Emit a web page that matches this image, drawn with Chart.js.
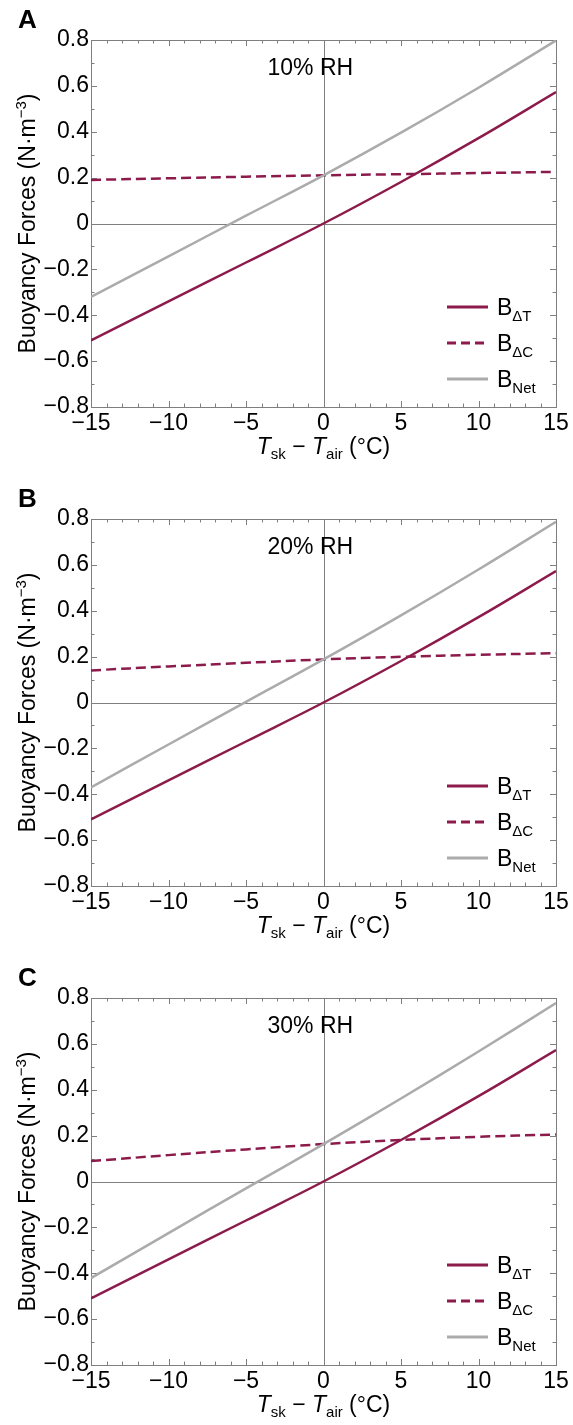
<!DOCTYPE html>
<html>
<head>
<meta charset="utf-8">
<script src="https://cdn.jsdelivr.net/npm/chart.js@4/dist/chart.umd.min.js"></script>
<style>
    html, body { margin: 0; padding: 0; background: #fff; overflow: hidden; }
    .panel { position: absolute; left: 0; width: 573px; height: 479px; }
</style>
</head>
<body>
<div class="panel" style="top:0"><canvas id="chartA" width="573" height="479"></canvas></div>
<div class="panel" style="top:479px"><canvas id="chartB" width="573" height="479"></canvas></div>
<div class="panel" style="top:958px"><canvas id="chartC" width="573" height="479"></canvas></div>

<script>
// Temperature difference T_sk - T_air (°C)
const xValues = [-15, -10, -5, 0, 5, 10, 15];

// Thermal buoyancy (same at every humidity)
const bDeltaT = [-0.51, -0.34, -0.17, 0, 0.181, 0.372, 0.573];

// Concentration buoyancy at 10, 20, 30 % RH
const bDeltaC10 = [0.19, 0.197, 0.204, 0.21, 0.215, 0.22, 0.225];
const bDeltaC20 = [0.14, 0.157, 0.173, 0.188, 0.199, 0.208, 0.215];
const bDeltaC30 = [0.089, 0.115, 0.14, 0.163, 0.181, 0.195, 0.205];

// Net buoyancy at 10, 20, 30 % RH
const bNet10 = [-0.32, -0.143, 0.034, 0.21, 0.396, 0.592, 0.798];
const bNet20 = [-0.37, -0.183, 0.003, 0.188, 0.38, 0.58, 0.788];
const bNet30 = [-0.421, -0.225, -0.03, 0.163, 0.362, 0.567, 0.778];

const panelLetters = ['A', 'B', 'C'];
const rhLabels = ['10% RH', '20% RH', '30% RH'];
const xTickValues = [-15, -10, -5, 0, 5, 10, 15];
const yTickValues = [-0.8, -0.6, -0.4, -0.2, 0, 0.2, 0.4, 0.6, 0.8];

const MAROON = '#8c1b4b';
const GREY_LINE = '#ababab';
const AXIS = '#7f7f7f';
const FONT = "'Liberation Sans', Arial, Helvetica, sans-serif";

function fmt(v) {
    const r = Math.round(v * 10) / 10;
    if (r === 0) return '0';
    return (r < 0 ? '\u2212' : '') + String(Math.abs(r));
}

function toPoints(ys) {
    return xValues.map((x, i) => ({ x: x, y: ys[i] }));
}

// draw a run of text pieces (for sub/superscripts)
function drawRich(ctx, parts, x, y) {
    let cx = x;
    parts.forEach(p => {
        ctx.font = p.font;
        ctx.fillText(p.text, cx, y + (p.dy || 0));
        cx += ctx.measureText(p.text).width;
    });
}
function richWidth(ctx, parts) {
    let w = 0;
    parts.forEach(p => { ctx.font = p.font; w += ctx.measureText(p.text).width; });
    return w;
}

// frame, zero lines and inward ticks
const framePlugin = {
    id: 'frame',
    beforeDatasetsDraw(chart) {
        const { ctx, chartArea: a, scales: { x, y } } = chart;
        ctx.save();
        ctx.strokeStyle = AXIS;
        ctx.lineWidth = 1;

        const x0 = Math.round(x.getPixelForValue(0)) + 0.5;
        const y0 = Math.round(y.getPixelForValue(0)) + 0.5;
        ctx.beginPath();
        ctx.moveTo(x0, a.top); ctx.lineTo(x0, a.bottom);
        ctx.moveTo(a.left, y0); ctx.lineTo(a.right, y0);
        ctx.stroke();

        ctx.strokeRect(Math.round(a.left) + 0.5, Math.round(a.top) + 0.5,
            Math.round(a.width), Math.round(a.height));

        ctx.beginPath();
        for (let v = -15; v <= 15; v++) {
            const px = Math.round(x.getPixelForValue(v)) + 0.5;
            const len = v % 5 === 0 ? 6 : 3.5;
            ctx.moveTo(px, a.bottom); ctx.lineTo(px, a.bottom - len);
            ctx.moveTo(px, a.top); ctx.lineTo(px, a.top + len);
        }
        for (let i = -8; i <= 8; i++) {
            const py = Math.round(y.getPixelForValue(i / 10)) + 0.5;
            const len = i % 2 === 0 ? 6 : 3.5;
            ctx.moveTo(a.left, py); ctx.lineTo(a.left + len, py);
            ctx.moveTo(a.right, py); ctx.lineTo(a.right - len, py);
        }
        ctx.stroke();
        ctx.restore();
    }
};

// titles, panel letter, RH note and legend
const textPlugin = {
    id: 'texts',
    afterDraw(chart) {
        const { ctx, chartArea: a, scales: { x } } = chart;
        const opts = chart.options.plugins.texts;
        ctx.save();
        ctx.fillStyle = '#000';
        ctx.textBaseline = 'alphabetic';
        ctx.textAlign = 'left';

        // panel letter
        ctx.font = 'bold 26px ' + FONT;
        ctx.fillText(opts.letter, 18, 28);

        // RH note
        ctx.font = '23px ' + FONT;
        ctx.fillText(opts.rh, x.getPixelForValue(0) - 56, a.top + 35);

        // x title
        const xt = [
            { text: 'T', font: 'italic 23px ' + FONT },
            { text: 'sk', font: '15px ' + FONT, dy: 5 },
            { text: ' \u2212 ', font: '23px ' + FONT },
            { text: 'T', font: 'italic 23px ' + FONT },
            { text: 'air', font: '15px ' + FONT, dy: 5 },
            { text: ' (\u00b0C)', font: '23px ' + FONT }
        ];
        const xw = richWidth(ctx, xt);
        drawRich(ctx, xt, (a.left + a.right) / 2 - xw / 2, a.bottom + 47);

        // y title
        const yt = [
            { text: 'Buoyancy Forces (N\u00b7m', font: '23px ' + FONT },
            { text: '\u22123', font: '15px ' + FONT, dy: -9 },
            { text: ')', font: '23px ' + FONT }
        ];
        const yw = richWidth(ctx, yt);
        ctx.save();
        ctx.translate(35, (a.top + a.bottom) / 2);
        ctx.rotate(-Math.PI / 2);
        drawRich(ctx, yt, -yw / 2, 0);
        ctx.restore();

        // legend
        const rows = [
            { sub: '\u0394T', color: MAROON, dash: [] },
            { sub: '\u0394C', color: MAROON, dash: [9, 5] },
            { sub: 'Net', color: GREY_LINE, dash: [] }
        ];
        rows.forEach((r, i) => {
            const cy = a.top + 267 + i * 36;
            ctx.beginPath();
            ctx.strokeStyle = r.color;
            ctx.lineWidth = 3;
            ctx.setLineDash(r.dash);
            ctx.moveTo(a.right - 109, cy);
            ctx.lineTo(a.right - 68, cy);
            ctx.stroke();
            ctx.setLineDash([]);
            drawRich(ctx, [
                { text: 'B', font: '23px ' + FONT },
                { text: r.sub, font: '15px ' + FONT, dy: 6 }
            ], a.right - 59, cy + 8);
        });
        ctx.restore();
    }
};

function makeChart(id, letter, rh, deltaC, net) {
    const ctx = document.getElementById(id);
    return new Chart(ctx, {
        type: 'line',
        data: {
            datasets: [
                {
                    label: 'B_net',
                    data: toPoints(net),
                    borderColor: GREY_LINE,
                    borderWidth: 2.5,
                    pointRadius: 0,
                    tension: 0.4
                },
                {
                    label: 'B_dC',
                    data: toPoints(deltaC),
                    borderColor: MAROON,
                    borderWidth: 2.5,
                    borderDash: [10, 5],
                    pointRadius: 0,
                    tension: 0.4
                },
                {
                    label: 'B_dT',
                    data: toPoints(bDeltaT),
                    borderColor: MAROON,
                    borderWidth: 2.5,
                    pointRadius: 0,
                    tension: 0.4
                }
            ]
        },
        options: {
            responsive: false,
            animation: false,
            events: [],
            layout: { padding: { top: 40, right: 17, left: 0, bottom: 0 } },
            plugins: {
                legend: { display: false },
                tooltip: { enabled: false },
                texts: { letter: letter, rh: rh }
            },
            scales: {
                x: {
                    type: 'linear',
                    min: -15,
                    max: 15,
                    afterFit: s => { s.height = 72; },
                    afterBuildTicks: s => { s.ticks = xTickValues.map(v => ({ value: v })); },
                    grid: { display: false, drawTicks: false },
                    border: { display: false },
                    ticks: {
                        color: '#000',
                        padding: 3,
                        maxRotation: 0,
                        font: { family: FONT, size: 23 },
                        callback: v => fmt(v)
                    }
                },
                y: {
                    type: 'linear',
                    min: -0.8,
                    max: 0.8,
                    afterFit: s => { s.width = 91; },
                    afterBuildTicks: s => { s.ticks = yTickValues.map(v => ({ value: v })); },
                    grid: { display: false, drawTicks: false },
                    border: { display: false },
                    ticks: {
                        color: '#000',
                        padding: 2,
                        font: { family: FONT, size: 23 },
                        callback: v => fmt(v)
                    }
                }
            }
        },
        plugins: [framePlugin, textPlugin]
    });
}

makeChart('chartA', panelLetters[0], rhLabels[0], bDeltaC10, bNet10);
makeChart('chartB', panelLetters[1], rhLabels[1], bDeltaC20, bNet20);
makeChart('chartC', panelLetters[2], rhLabels[2], bDeltaC30, bNet30);
</script>
</body>
</html>
